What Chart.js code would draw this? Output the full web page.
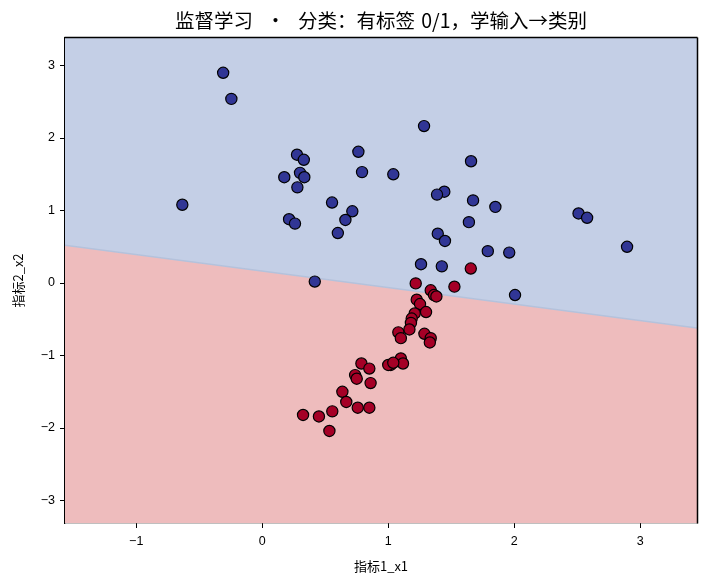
<!DOCTYPE html>
<html>
<head>
<meta charset="utf-8">
<script src="https://cdn.jsdelivr.net/npm/chart.js@4/dist/chart.umd.min.js"></script>
<style>
  html, body { margin: 0; padding: 0; background: #fff; }
  #wrap { width: 709px; height: 587px; position: relative; }
</style>
</head>
<body>
<div id="wrap"><canvas id="chart"></canvas></div>
<script>
// 类别 0（蓝）与类别 1（红）的样本点
const class0X = [-0.31, -0.245, 0.276, 0.33, 0.30, 0.334, 0.175, 0.279, -0.634, 0.763, 0.792, 1.04, 0.554, 0.715, 0.66, 0.60, 0.213, 0.26, 0.417,
                 1.284, 1.657, 1.445, 1.387, 1.673, 1.85, 1.64, 2.51, 2.578, 2.895, 1.393, 1.45, 1.79, 1.96, 1.26, 1.425, 2.006];
const class0Y = [2.90, 2.54, 1.77, 1.70, 1.52, 1.46, 1.46, 1.32, 1.08, 1.81, 1.53, 1.50, 1.11, 0.99, 0.87, 0.69, 0.88, 0.82, 0.02,
                 2.165, 1.68, 1.26, 1.22, 1.14, 1.05, 0.84, 0.96, 0.90, 0.50, 0.68, 0.58, 0.44, 0.42, 0.26, 0.23, -0.166];
const class1X = [1.655, 1.218, 1.525, 1.337, 1.363, 1.382, 1.226, 1.252, 1.30, 1.21, 1.186, 1.18, 1.168, 1.08, 1.10, 1.287, 1.337, 1.33,
                 1.10, 1.117, 1.02, 1.00, 1.04, 0.787, 0.85, 0.737, 0.75, 0.86, 0.636, 0.667, 0.758, 0.85, 0.556, 0.324, 0.45, 0.533];
const class1Y = [0.20, -0.005, -0.05, -0.10, -0.166, -0.185, -0.23, -0.29, -0.40, -0.42, -0.49, -0.55, -0.64, -0.68, -0.76, -0.70, -0.76, -0.82,
                 -1.04, -1.11, -1.13, -1.13, -1.10, -1.11, -1.18, -1.27, -1.32, -1.38, -1.50, -1.64, -1.72, -1.72, -1.77, -1.82, -1.84, -2.04];

// 决策边界（左右两端）
const boundaryX = [-1.565, 3.45];
const boundaryY = [0.52, -0.62];

const xTicks = [-1, 0, 1, 2, 3];
const yTicks = [-3, -2, -1, 0, 1, 2, 3];
const xRange = [-1.565, 3.45];
const yRange = [-3.31, 3.38];

const toPoints = (xs, ys) => xs.map((x, i) => ({ x: x, y: ys[i] }));
const fmt = (v) => String(v).replace('-', '\u2212');

const FONT = "'Liberation Sans', 'Noto Sans CJK SC', sans-serif";
const CJK = "'Noto Sans CJK SC', sans-serif";

// 外框 + 标题（居中于绘图区）
const framePlugin = {
    id: 'frame',
    afterDraw(chart) {
        const { ctx, chartArea: a } = chart;
        ctx.save();
        ctx.globalAlpha = 1;
        ctx.setLineDash([]);
        ctx.strokeStyle = '#000';
        ctx.lineWidth = 1.5;
        const l = Math.round(a.left) - 0.5, r = Math.round(a.right) + 0.5;
        const t = Math.round(a.top) - 0.5, b = Math.round(a.bottom) + 0.5;
        ctx.beginPath();
        ctx.moveTo(l, t); ctx.lineTo(r, t);
        ctx.moveTo(r, t); ctx.lineTo(r, b);
        ctx.stroke();

        ctx.fillStyle = '#000';
        ctx.font = "19.5px " + CJK;
        if ('wordSpacing' in ctx) ctx.wordSpacing = '2px';
        ctx.textAlign = 'center';
        ctx.textBaseline = 'middle';
        ctx.fillText('监督学习  ·  分类：有标签 0/1，学输入→类别', (a.left + a.right) / 2, 21);
        ctx.restore();
    }
};

const boundary = toPoints(boundaryX, boundaryY);

new Chart(document.getElementById('chart'), {
    type: 'scatter',
    data: {
        datasets: [
            {
                type: 'line', data: boundary, fill: 'end', backgroundColor: '#c4cfe6',
                borderWidth: 0, pointRadius: 0, order: 3
            },
            {
                type: 'line', data: boundary, fill: 'start', backgroundColor: '#eebcbd',
                borderColor: '#b4c2dc', borderWidth: 1.5, pointRadius: 0, order: 2
            },
            {
                data: toPoints(class0X, class0Y), backgroundColor: '#313695', borderColor: '#000',
                borderWidth: 1.2, pointRadius: 5.6, order: 1
            },
            {
                data: toPoints(class1X, class1Y), backgroundColor: '#a50026', borderColor: '#000',
                borderWidth: 1.2, pointRadius: 5.6, order: 1
            }
        ]
    },
    options: {
        responsive: true,
        maintainAspectRatio: false,
        animation: false,
        layout: { padding: { top: 38, right: 12, left: 0, bottom: 0 } },
        plugins: {
            legend: { display: false },
            tooltip: { enabled: false },
            title: { display: false }
        },
        scales: {
            x: {
                type: 'linear', min: xRange[0], max: xRange[1],
                afterBuildTicks: (s) => { s.ticks = xTicks.map(v => ({ value: v })); },
                afterFit: (s) => { s.height = 64; },
                grid: { display: true, drawOnChartArea: false, drawTicks: true, tickLength: 5, color: '#000' },
                border: { display: true, color: '#000', width: 1.2 },
                ticks: { color: '#000', font: { family: FONT, size: 12.5 }, padding: 6, callback: fmt, maxRotation: 0 },
                title: { display: true, text: '指标1_x1', color: '#000', font: { family: CJK, size: 13 }, padding: { top: 2, bottom: 13 } }
            },
            y: {
                type: 'linear', min: yRange[0], max: yRange[1],
                afterBuildTicks: (s) => { s.ticks = yTicks.map(v => ({ value: v })); },
                afterFit: (s) => { s.width = 65; },
                grid: { display: true, drawOnChartArea: false, drawTicks: true, tickLength: 5, color: '#000' },
                border: { display: true, color: '#000', width: 1.2 },
                ticks: { color: '#000', font: { family: FONT, size: 12.5 }, padding: 5, callback: fmt },
                title: { display: true, text: '指标2_x2', color: '#000', font: { family: CJK, size: 13 }, padding: { top: 10, bottom: 2 } }
            }
        }
    },
    plugins: [framePlugin]
});
</script>
</body>
</html>
